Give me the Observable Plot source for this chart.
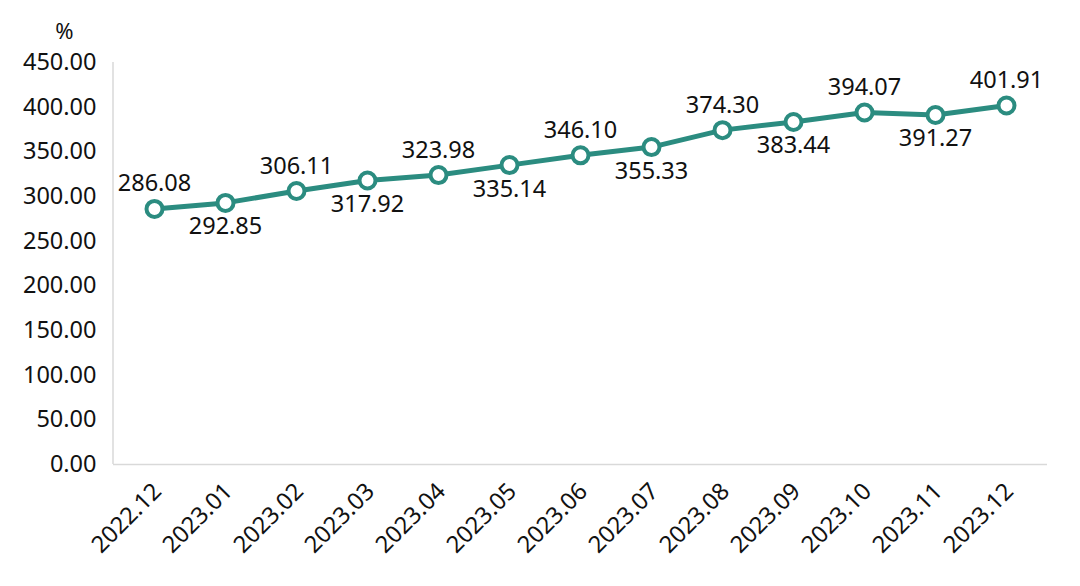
<!DOCTYPE html>
<html><head><meta charset="utf-8">
<script src="https://cdn.jsdelivr.net/npm/d3@7"></script>
<script src="https://cdn.jsdelivr.net/npm/@observablehq/plot@0.6"></script>
<style>body{margin:0;background:#fff;}#chart svg{display:block;}</style>
</head><body><div id="chart"></div>
<script>
const months = ["2022.12","2023.01","2023.02","2023.03","2023.04","2023.05","2023.06","2023.07","2023.08","2023.09","2023.10","2023.11","2023.12"];
const values = [286.08,292.85,306.11,317.92,323.98,335.14,346.10,355.33,374.30,383.44,394.07,391.27,401.91];
const labelSide = ["above","below","above","below","above","below","above","below","above","below","above","below","above"];
const yTicks = [0,50,100,150,200,250,300,350,400,450];

const data = months.map((m,i)=>({m, v: values[i], side: labelSide[i]}));
const teal = "#2b8c80";
const font = "'Noto Sans', 'Open Sans', sans-serif";
const fs = 23.5;

const leftAxisLine = (index, scales, values, dims) => {
  const ns = "http://www.w3.org/2000/svg";
  const l = document.createElementNS(ns, "line");
  l.setAttribute("x1", dims.marginLeft); l.setAttribute("x2", dims.marginLeft);
  l.setAttribute("y1", scales.y(450)); l.setAttribute("y2", scales.y(0));
  l.setAttribute("stroke", "#d9d9d9"); l.setAttribute("stroke-width", 1.5);
  return l;
};

const chart = Plot.plot({
  width: 1080, height: 586,
  marginLeft: 113, marginRight: 33, marginTop: 62, marginBottom: 122,
  style: {fontFamily: font, fontSize: fs + "px", color: "#111", background: "#fff"},
  x: {type: "point", domain: months, padding: 0.5, label: null},
  y: {domain: [0,450], label: null},
  marks: [
    leftAxisLine,
    Plot.ruleY([0], {stroke: "#d9d9d9", strokeWidth: 1.5}),
    Plot.axisY({ticks: yTicks, tickSize: 0, tickPadding: 17, tickFormat: d => d.toFixed(2), fontSize: fs}),
    Plot.axisX({tickSize: 0, tickPadding: 23, dx: 3, tickRotate: -45, fontSize: fs}),
    Plot.line(data, {x: "m", y: "v", stroke: teal, strokeWidth: 5}),
    Plot.dot(data, {x: "m", y: "v", r: 8, fill: "#fff", stroke: teal, strokeWidth: 4}),
    Plot.text(data.filter(d=>d.side==="above"), {x: "m", y: "v", text: d => d.v.toFixed(2), dy: -25, fontSize: fs, fill: "#111"}),
    Plot.text(data.filter(d=>d.side==="below"), {x: "m", y: "v", text: d => d.v.toFixed(2), dy: 24, fontSize: fs, fill: "#111"}),
    Plot.text(["%"], {frameAnchor: "top-left", lineAnchor: "middle", textAnchor: "middle", dx: -49, dy: -31, fontSize: 22, fill: "#111"})
  ]
});
document.getElementById("chart").appendChild(chart);
</script></body></html>
